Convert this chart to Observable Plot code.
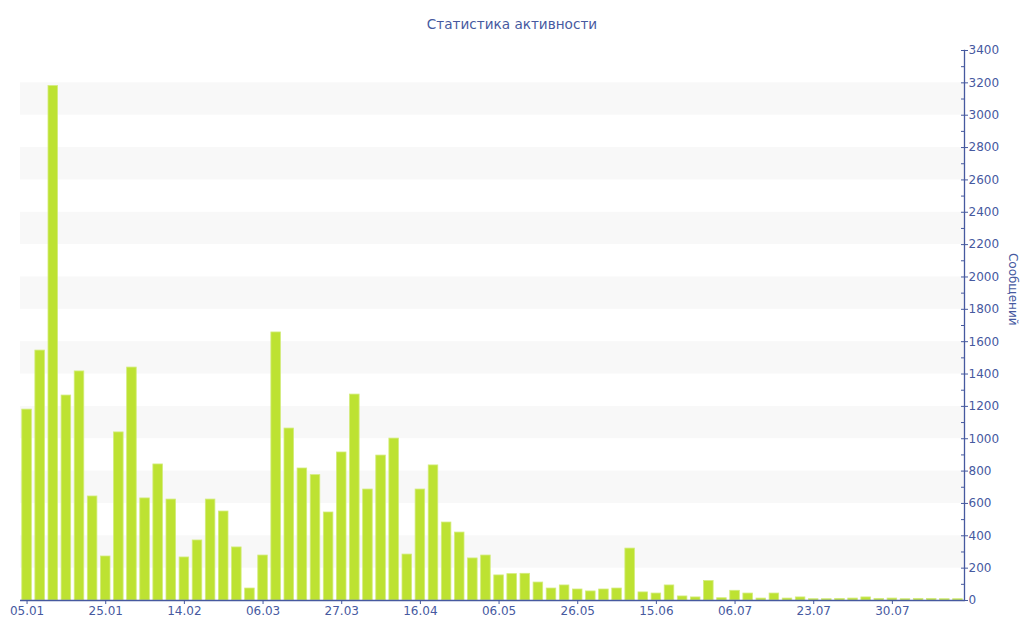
<!DOCTYPE html>
<html>
<head>
<meta charset="utf-8">
<script src="https://cdn.jsdelivr.net/npm/d3@7"></script>
<script src="https://cdn.jsdelivr.net/npm/@observablehq/plot@0.6"></script>
<style>
  html, body { margin: 0; padding: 0; background: #fff; }
  #wrap { position: relative; width: 1024px; height: 640px; font-family: "DejaVu Sans", Verdana, sans-serif; }
  #title { position: absolute; top: 16px; left: 0; width: 1024px; text-align: center; font-size: 13.6px; color: #46599f; z-index: 2; }
</style>
</head>
<body>
<div id="wrap">
  <div id="title">Статистика активности</div>
</div>
<script>
const title = "Статистика активности";
const yLabel = "Сообщений";
const tickLabels = ["05.01","25.01","14.02","06.03","27.03","16.04","06.05","26.05","15.06","06.07","23.07","30.07"];
const messages = [
  1180, 1545, 3180, 1267, 1416, 643, 272, 1039, 1440, 631, 841, 624,
  266, 371, 624, 550, 328, 74, 278, 1657, 1063, 816, 775, 544,
  915, 1273, 686, 896, 1001, 284, 686, 835, 482, 420, 260, 278,
  155, 163, 165, 111, 74, 93, 68, 56, 68, 74, 321, 50,
  43, 93, 25, 19, 120, 14, 60, 43, 12, 43, 12, 19,
  8, 8, 10, 12, 19, 10, 12, 8, 10, 10, 8, 8
];
const yMax = 3400;

const ink = "#46599f";
const barColor = "#bde232";

const data = messages.map((v, i) => ({i, v}));
const labelEvery = messages.length / tickLabels.length;
const tickIdx = tickLabels.map((_, k) => k * labelEvery);
const bands = d3.range(200, yMax - 200, 400).map(y => ({y1: y, y2: y + 200}));

const chart = Plot.plot({
  width: 1024,
  height: 640,
  marginTop: 50,
  marginBottom: 40,
  marginLeft: 20,
  marginRight: 60,
  style: {fontFamily: "DejaVu Sans, Verdana, sans-serif", fontSize: "12px", color: ink, background: "transparent"},
  x: {type: "band", domain: d3.range(messages.length), paddingInner: 0.27, paddingOuter: 0.135, round: false},
  y: {domain: [0, yMax]},
  marks: [
    Plot.rect(bands, {y1: "y1", y2: "y2", fill: "#f8f8f8"}),
    Plot.barY(data, {x: "i", y: "v", fill: barColor, stroke: "#d3ec7c", strokeWidth: 0.8}),
    Plot.axisY({anchor: "right", ticks: d3.range(0, yMax + 1, 100), tickSize: -4, tickFormat: () => "", stroke: ink, label: null}),
    Plot.axisY({anchor: "right", ticks: d3.range(0, yMax + 1, 200), tickSize: 3, tickPadding: 1, tickFormat: d => String(d), stroke: ink, fill: ink, label: null, fontSize: 12}),
    Plot.frame({anchor: "right", stroke: ink, strokeWidth: 1.3}),
    Plot.ruleY([0], {stroke: ink, strokeWidth: 1.5}),
    Plot.axisX({ticks: tickIdx, tickFormat: i => tickLabels[i / labelEvery], tickSize: 4, tickPadding: 2, stroke: ink, fill: ink, label: null, fontSize: 12}),
    Plot.text([yLabel], {frameAnchor: "right", dx: 48, rotate: 90, fill: ink, fontSize: 12})
  ]
});
document.getElementById("wrap").appendChild(chart);
chart.style.position = "absolute";
chart.style.left = "0";
chart.style.top = "0";
</script>
</body>
</html>
